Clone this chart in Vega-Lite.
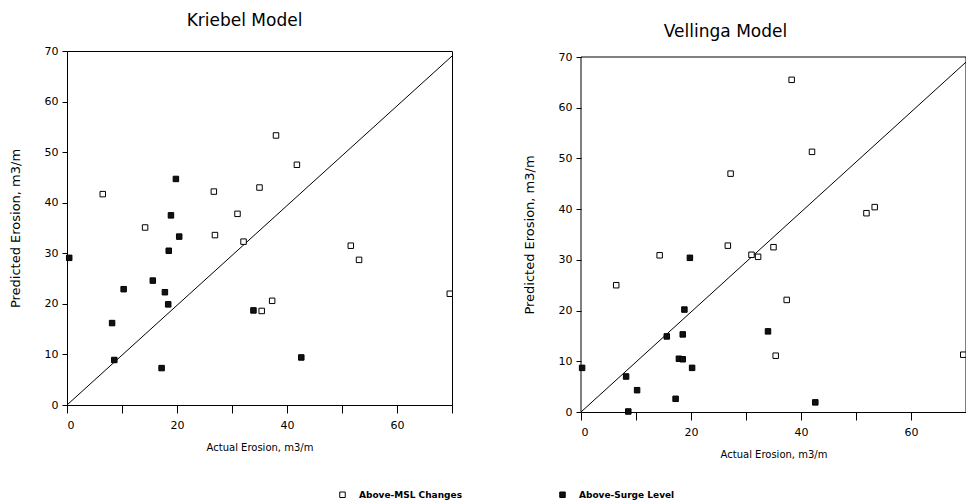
{
  "$schema": "https://vega.github.io/schema/vega-lite/v6.json",
  "background": "white",
  "padding": {"left": 8, "top": 11, "right": 0, "bottom": 0},
  "config": {
    "font": "DejaVu Sans",
    "view": {"stroke": "black", "strokeWidth": 1},
    "axis": {"grid": false, "domainColor": "black", "tickColor": "black", "labelColor": "black", "titleColor": "black", "labelFontSize": 11, "titleFontSize": 10, "titleFontWeight": "normal", "tickSize": 5, "labelPadding": 4},
    "axisX": {"tickSize": 8, "labelPadding": 6},
    "title": {"fontSize": 17, "fontWeight": "normal", "color": "black"}
  },
  "datasets": {
    "pts": [
      {"model": "Kriebel", "series": "Above-MSL Changes", "actual": 6.5, "predicted": 41.7},
      {"model": "Kriebel", "series": "Above-MSL Changes", "actual": 14.2, "predicted": 35.1},
      {"model": "Kriebel", "series": "Above-MSL Changes", "actual": 26.7, "predicted": 42.2},
      {"model": "Kriebel", "series": "Above-MSL Changes", "actual": 26.9, "predicted": 33.6},
      {"model": "Kriebel", "series": "Above-MSL Changes", "actual": 31.0, "predicted": 37.8},
      {"model": "Kriebel", "series": "Above-MSL Changes", "actual": 32.1, "predicted": 32.3},
      {"model": "Kriebel", "series": "Above-MSL Changes", "actual": 35.0, "predicted": 43.0},
      {"model": "Kriebel", "series": "Above-MSL Changes", "actual": 38.0, "predicted": 53.3},
      {"model": "Kriebel", "series": "Above-MSL Changes", "actual": 41.8, "predicted": 47.5},
      {"model": "Kriebel", "series": "Above-MSL Changes", "actual": 37.3, "predicted": 20.6},
      {"model": "Kriebel", "series": "Above-MSL Changes", "actual": 35.4, "predicted": 18.6},
      {"model": "Kriebel", "series": "Above-MSL Changes", "actual": 51.6, "predicted": 31.5},
      {"model": "Kriebel", "series": "Above-MSL Changes", "actual": 53.1, "predicted": 28.7},
      {"model": "Kriebel", "series": "Above-MSL Changes", "actual": 69.6, "predicted": 22.0},
      {"model": "Kriebel", "series": "Above-Surge Level", "actual": 0.4, "predicted": 29.1},
      {"model": "Kriebel", "series": "Above-Surge Level", "actual": 8.2, "predicted": 16.2},
      {"model": "Kriebel", "series": "Above-Surge Level", "actual": 8.6, "predicted": 8.9},
      {"model": "Kriebel", "series": "Above-Surge Level", "actual": 10.3, "predicted": 22.9},
      {"model": "Kriebel", "series": "Above-Surge Level", "actual": 15.6, "predicted": 24.6},
      {"model": "Kriebel", "series": "Above-Surge Level", "actual": 17.2, "predicted": 7.3},
      {"model": "Kriebel", "series": "Above-Surge Level", "actual": 17.8, "predicted": 22.3},
      {"model": "Kriebel", "series": "Above-Surge Level", "actual": 18.4, "predicted": 19.9},
      {"model": "Kriebel", "series": "Above-Surge Level", "actual": 18.5, "predicted": 30.5},
      {"model": "Kriebel", "series": "Above-Surge Level", "actual": 18.9, "predicted": 37.5},
      {"model": "Kriebel", "series": "Above-Surge Level", "actual": 19.8, "predicted": 44.7},
      {"model": "Kriebel", "series": "Above-Surge Level", "actual": 20.4, "predicted": 33.3},
      {"model": "Kriebel", "series": "Above-Surge Level", "actual": 33.9, "predicted": 18.7},
      {"model": "Kriebel", "series": "Above-Surge Level", "actual": 42.6, "predicted": 9.4},
      {"model": "Vellinga", "series": "Above-MSL Changes", "actual": 6.4, "predicted": 25.0},
      {"model": "Vellinga", "series": "Above-MSL Changes", "actual": 14.3, "predicted": 30.9},
      {"model": "Vellinga", "series": "Above-MSL Changes", "actual": 26.7, "predicted": 32.8},
      {"model": "Vellinga", "series": "Above-MSL Changes", "actual": 27.2, "predicted": 47.0},
      {"model": "Vellinga", "series": "Above-MSL Changes", "actual": 31.0, "predicted": 31.0},
      {"model": "Vellinga", "series": "Above-MSL Changes", "actual": 32.2, "predicted": 30.6},
      {"model": "Vellinga", "series": "Above-MSL Changes", "actual": 35.0, "predicted": 32.5},
      {"model": "Vellinga", "series": "Above-MSL Changes", "actual": 35.4, "predicted": 11.1},
      {"model": "Vellinga", "series": "Above-MSL Changes", "actual": 37.4, "predicted": 22.1},
      {"model": "Vellinga", "series": "Above-MSL Changes", "actual": 38.3, "predicted": 65.5},
      {"model": "Vellinga", "series": "Above-MSL Changes", "actual": 42.0, "predicted": 51.3},
      {"model": "Vellinga", "series": "Above-MSL Changes", "actual": 51.9, "predicted": 39.2},
      {"model": "Vellinga", "series": "Above-MSL Changes", "actual": 53.4, "predicted": 40.4},
      {"model": "Vellinga", "series": "Above-MSL Changes", "actual": 69.5, "predicted": 11.3},
      {"model": "Vellinga", "series": "Above-Surge Level", "actual": 0.2, "predicted": 8.7},
      {"model": "Vellinga", "series": "Above-Surge Level", "actual": 8.2, "predicted": 7.0},
      {"model": "Vellinga", "series": "Above-Surge Level", "actual": 8.6, "predicted": 0.1},
      {"model": "Vellinga", "series": "Above-Surge Level", "actual": 10.2, "predicted": 4.3},
      {"model": "Vellinga", "series": "Above-Surge Level", "actual": 15.6, "predicted": 14.9},
      {"model": "Vellinga", "series": "Above-Surge Level", "actual": 17.2, "predicted": 2.6},
      {"model": "Vellinga", "series": "Above-Surge Level", "actual": 17.8, "predicted": 10.5},
      {"model": "Vellinga", "series": "Above-Surge Level", "actual": 18.5, "predicted": 10.4},
      {"model": "Vellinga", "series": "Above-Surge Level", "actual": 18.5, "predicted": 15.3},
      {"model": "Vellinga", "series": "Above-Surge Level", "actual": 18.8, "predicted": 20.2},
      {"model": "Vellinga", "series": "Above-Surge Level", "actual": 19.8, "predicted": 30.4},
      {"model": "Vellinga", "series": "Above-Surge Level", "actual": 20.2, "predicted": 8.7},
      {"model": "Vellinga", "series": "Above-Surge Level", "actual": 34.0, "predicted": 15.9},
      {"model": "Vellinga", "series": "Above-Surge Level", "actual": 42.6, "predicted": 1.9}
    ],
    "diag": [{"x": 0, "y": 0}, {"x": 70, "y": 69}],
    "frame": [
      {"x": 0, "y": 70, "x2": 70, "y2": 70},
      {"x": 70, "y": 0, "x2": 70, "y2": 70},
      {"x": 0, "y": 0, "x2": 0, "y2": 70}
    ]
  },
  "spacing": 67,
  "resolve": {"legend": {"fill": "shared"}},
  "hconcat": [
    {
      "width": 385,
      "height": 354,
      "title": {"text": "Kriebel Model", "offset": 15, "dx": -15},
      "layer": [
        {
          "data": {"name": "diag"},
          "mark": {"type": "line", "color": "black", "strokeWidth": 1},
          "encoding": {
            "x": {"field": "x", "type": "quantitative"},
            "y": {"field": "y", "type": "quantitative"}
          }
        },
        {
          "data": {"name": "pts"},
          "transform": [{"filter": "datum.model == 'Kriebel'"}],
          "mark": {"type": "point", "shape": "square", "size": 30, "filled": true, "stroke": "black", "strokeWidth": 1, "opacity": 1},
          "encoding": {
            "x": {"field": "actual", "type": "quantitative", "scale": {"domain": [0, 70], "nice": false},
              "axis": {"title": "Actual Erosion, m3/m", "values": [0, 10, 20, 30, 40, 50, 60, 70], "labelExpr": "datum.value % 20 == 0 && datum.value < 70 ? datum.label : ''", "titlePadding": 12}},
            "y": {"field": "predicted", "type": "quantitative", "scale": {"domain": [0, 70], "nice": false},
              "axis": {"title": "Predicted Erosion, m3/m", "values": [0, 10, 20, 30, 40, 50, 60, 70], "titlePadding": 22, "titleFontSize": 13}},
            "fill": {"field": "series", "type": "nominal",
              "scale": {"domain": ["Above-MSL Changes", "Above-Surge Level"], "range": ["white", "#111111"]},
              "legend": {"title": null, "orient": "none", "legendX": 271, "legendY": 439, "direction": "horizontal", "symbolType": "square", "symbolSize": 30, "symbolStrokeColor": "black", "symbolStrokeWidth": 1, "labelFontSize": 9, "labelFontWeight": "bold", "columnPadding": 95, "labelOffset": 12}}
          }
        }
      ]
    },
    {
      "width": 385,
      "height": 361,
      "view": {"stroke": null},
      "title": {"text": ["", "Vellinga Model"], "lineHeight": 10, "offset": 10, "dx": -48},
      "layer": [
        {
          "data": {"name": "frame"},
          "mark": {"type": "rule", "color": "black", "strokeWidth": 1},
          "encoding": {
            "x": {"field": "x", "type": "quantitative"},
            "y": {"field": "y", "type": "quantitative"},
            "x2": {"field": "x2"},
            "y2": {"field": "y2"}
          }
        },
        {
          "data": {"name": "diag"},
          "mark": {"type": "line", "color": "black", "strokeWidth": 1},
          "encoding": {
            "x": {"field": "x", "type": "quantitative"},
            "y": {"field": "y", "type": "quantitative"}
          }
        },
        {
          "data": {"name": "pts"},
          "transform": [{"filter": "datum.model == 'Vellinga'"}],
          "mark": {"type": "point", "shape": "square", "size": 30, "filled": true, "stroke": "black", "strokeWidth": 1, "opacity": 1},
          "encoding": {
            "x": {"field": "actual", "type": "quantitative", "scale": {"domain": [0, 70], "nice": false},
              "axis": {"title": "Actual Erosion, m3/m", "values": [0, 10, 20, 30, 40, 50, 60, 70], "labelExpr": "datum.value % 20 == 0 && datum.value < 70 ? datum.label : ''", "titlePadding": 12}},
            "y": {"field": "predicted", "type": "quantitative", "scale": {"domain": [0, 70], "nice": false, "range": [361, 6]},
              "axis": {"title": "Predicted Erosion, m3/m", "values": [0, 10, 20, 30, 40, 50, 60, 70], "titlePadding": 22, "titleFontSize": 13, "domain": false}},
            "fill": {"field": "series", "type": "nominal",
              "scale": {"domain": ["Above-MSL Changes", "Above-Surge Level"], "range": ["white", "#111111"]}}
          }
        }
      ]
    }
  ]
}
